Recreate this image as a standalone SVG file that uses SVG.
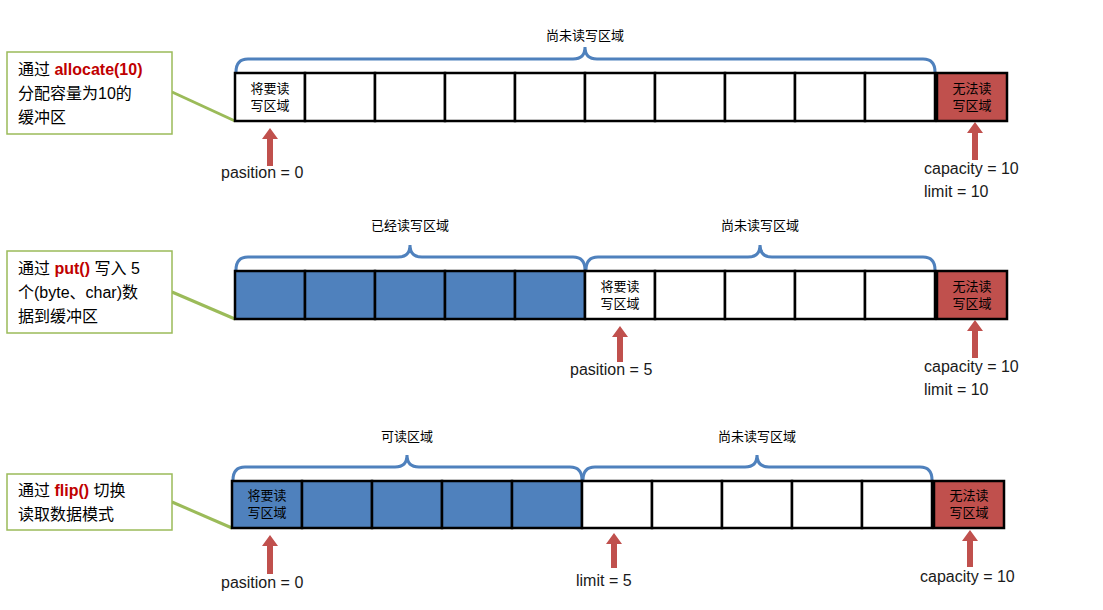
<svg xmlns="http://www.w3.org/2000/svg" width="1103" height="610" viewBox="0 0 1103 610">
<style>
.c{fill:#fff;stroke:#000;stroke-width:2.5}
.b{fill:#4f81bd;stroke:#000;stroke-width:2.5}
.r{fill:#c0504d;stroke:#000;stroke-width:2.5}
.t{font-family:"Liberation Sans","Noto Sans CJK SC",sans-serif;font-size:13px;fill:#000;text-anchor:middle}
.l{font-family:"Liberation Sans","Noto Sans CJK SC",sans-serif;font-size:16px;fill:#000}
.k{font-family:"Liberation Sans","Noto Sans CJK SC",sans-serif;font-size:16px;fill:#1a1a1a}
.e{fill:#c00000;font-weight:bold}
.box{fill:#fff;stroke:#9bbb59;stroke-width:1.5}
.br{fill:none;stroke:#4f81bd;stroke-width:3}
.gl{stroke:#9bbb59;stroke-width:3}
.ar{fill:#c0504d}
</style>
<rect width="1103" height="610" fill="#fff"/>
<g id="connectors">
<line class="gl" x1="172" y1="92" x2="235" y2="121"/>
<line class="gl" x1="172" y1="292" x2="235" y2="319"/>
<line class="gl" x1="172" y1="502" x2="232" y2="528"/>
<path class="br" d="M236,72 Q236,59 248,59 L573,59 Q585,59 585,47 Q585,59 597,59 L923,59 Q935,59 935,72"/>
<path class="br" d="M236,270 Q236,257 248,257 L398,257 Q410,257 410,245 Q410,257 422,257 L573,257 Q585,257 585,270"/>
<path class="br" d="M586,270 Q586,257 598,257 L748,257 Q760,257 760,245 Q760,257 772,257 L923,257 Q935,257 935,270"/>
<path class="br" d="M233,480 Q233,467 245,467 L395,467 Q407,467 407,455 Q407,467 419,467 L570,467 Q582,467 582,480"/>
<path class="br" d="M583,480 Q583,467 595,467 L745,467 Q757,467 757,455 Q757,467 769,467 L920,467 Q932,467 932,480"/>
<path class="ar" d="M270,128 L278,139 L273,139 L273,166 L267,166 L267,139 L262,139Z"/>
<path class="ar" d="M975,122 L983,133 L978,133 L978,160 L972,160 L972,133 L967,133Z"/>
<path class="ar" d="M620,326 L628,337 L623,337 L623,362 L617,362 L617,337 L612,337Z"/>
<path class="ar" d="M975,320 L983,331 L978,331 L978,358 L972,358 L972,331 L967,331Z"/>
<path class="ar" d="M270,535 L278,546 L273,546 L273,574 L267,574 L267,546 L262,546Z"/>
<path class="ar" d="M614,533 L622,544 L617,544 L617,568 L611,568 L611,544 L606,544Z"/>
<path class="ar" d="M970,530 L978,541 L973,541 L973,567 L967,567 L967,541 L962,541Z"/>
</g>
<g id="labels">
<text class="t" x="585" y="40">尚未读写区域</text>
<text class="t" x="410" y="230">已经读写区域</text>
<text class="t" x="760" y="230">尚未读写区域</text>
<text class="t" x="407" y="441">可读区域</text>
<text class="t" x="757" y="441">尚未读写区域</text>
<text class="k" x="221" y="178">pasition = 0</text>
<text class="k" x="924" y="174">capacity = 10</text>
<text class="k" x="924" y="197">limit = 10</text>
<text class="k" x="570" y="375">pasition = 5</text>
<text class="k" x="924" y="372">capacity = 10</text>
<text class="k" x="924" y="395">limit = 10</text>
<text class="k" x="221" y="588">pasition = 0</text>
<text class="k" x="576" y="586">limit = 5</text>
<text class="k" x="920" y="582">capacity = 10</text>
</g>
<g id="note1"><rect class="box" x="7" y="52" width="165" height="82"/>
<text class="l" x="18" y="75">通过 <tspan class="e">allocate(10)</tspan></text>
<text class="l" x="18" y="99">分配容量为10的</text>
<text class="l" x="18" y="123">缓冲区</text></g>
<g id="note2"><rect class="box" x="7" y="251" width="165" height="82"/>
<text class="l" x="18" y="274">通过 <tspan class="e">put()</tspan> 写入 5</text>
<text class="l" x="18" y="298">个(byte、char)数</text>
<text class="l" x="18" y="322">据到缓冲区</text></g>
<g id="note3"><rect class="box" x="7" y="474" width="165" height="56"/>
<text class="l" x="18" y="496">通过 <tspan class="e">flip()</tspan> 切换</text>
<text class="l" x="18" y="520">读取数据模式</text></g>
<g id="buffer1">
<rect class="c" x="235" y="73" width="70" height="48"/><rect class="c" x="305" y="73" width="70" height="48"/><rect class="c" x="375" y="73" width="70" height="48"/><rect class="c" x="445" y="73" width="70" height="48"/><rect class="c" x="515" y="73" width="70" height="48"/><rect class="c" x="585" y="73" width="70" height="48"/><rect class="c" x="655" y="73" width="70" height="48"/><rect class="c" x="725" y="73" width="70" height="48"/><rect class="c" x="795" y="73" width="70" height="48"/><rect class="c" x="865" y="73" width="70" height="48"/><rect class="r" x="937" y="73" width="70" height="48"/>
<text class="t" x="270" y="93">将要读</text><text class="t" x="270" y="110">写区域</text>
<text class="t" x="972" y="93">无法读</text><text class="t" x="972" y="110">写区域</text>
</g>
<g id="buffer2">
<rect class="b" x="235" y="271" width="70" height="48"/><rect class="b" x="305" y="271" width="70" height="48"/><rect class="b" x="375" y="271" width="70" height="48"/><rect class="b" x="445" y="271" width="70" height="48"/><rect class="b" x="515" y="271" width="70" height="48"/><rect class="c" x="585" y="271" width="70" height="48"/><rect class="c" x="655" y="271" width="70" height="48"/><rect class="c" x="725" y="271" width="70" height="48"/><rect class="c" x="795" y="271" width="70" height="48"/><rect class="c" x="865" y="271" width="70" height="48"/><rect class="r" x="937" y="271" width="70" height="48"/>
<text class="t" x="620" y="291">将要读</text><text class="t" x="620" y="308">写区域</text>
<text class="t" x="972" y="291">无法读</text><text class="t" x="972" y="308">写区域</text>
</g>
<g id="buffer3">
<rect class="b" x="232" y="481" width="70" height="47"/><rect class="b" x="302" y="481" width="70" height="47"/><rect class="b" x="372" y="481" width="70" height="47"/><rect class="b" x="442" y="481" width="70" height="47"/><rect class="b" x="512" y="481" width="70" height="47"/><rect class="c" x="582" y="481" width="70" height="47"/><rect class="c" x="652" y="481" width="70" height="47"/><rect class="c" x="722" y="481" width="70" height="47"/><rect class="c" x="792" y="481" width="70" height="47"/><rect class="c" x="862" y="481" width="70" height="47"/><rect class="r" x="934" y="481" width="70" height="47"/>
<text class="t" x="267" y="500">将要读</text><text class="t" x="267" y="517">写区域</text>
<text class="t" x="969" y="500">无法读</text><text class="t" x="969" y="517">写区域</text>
</g>
</svg>
